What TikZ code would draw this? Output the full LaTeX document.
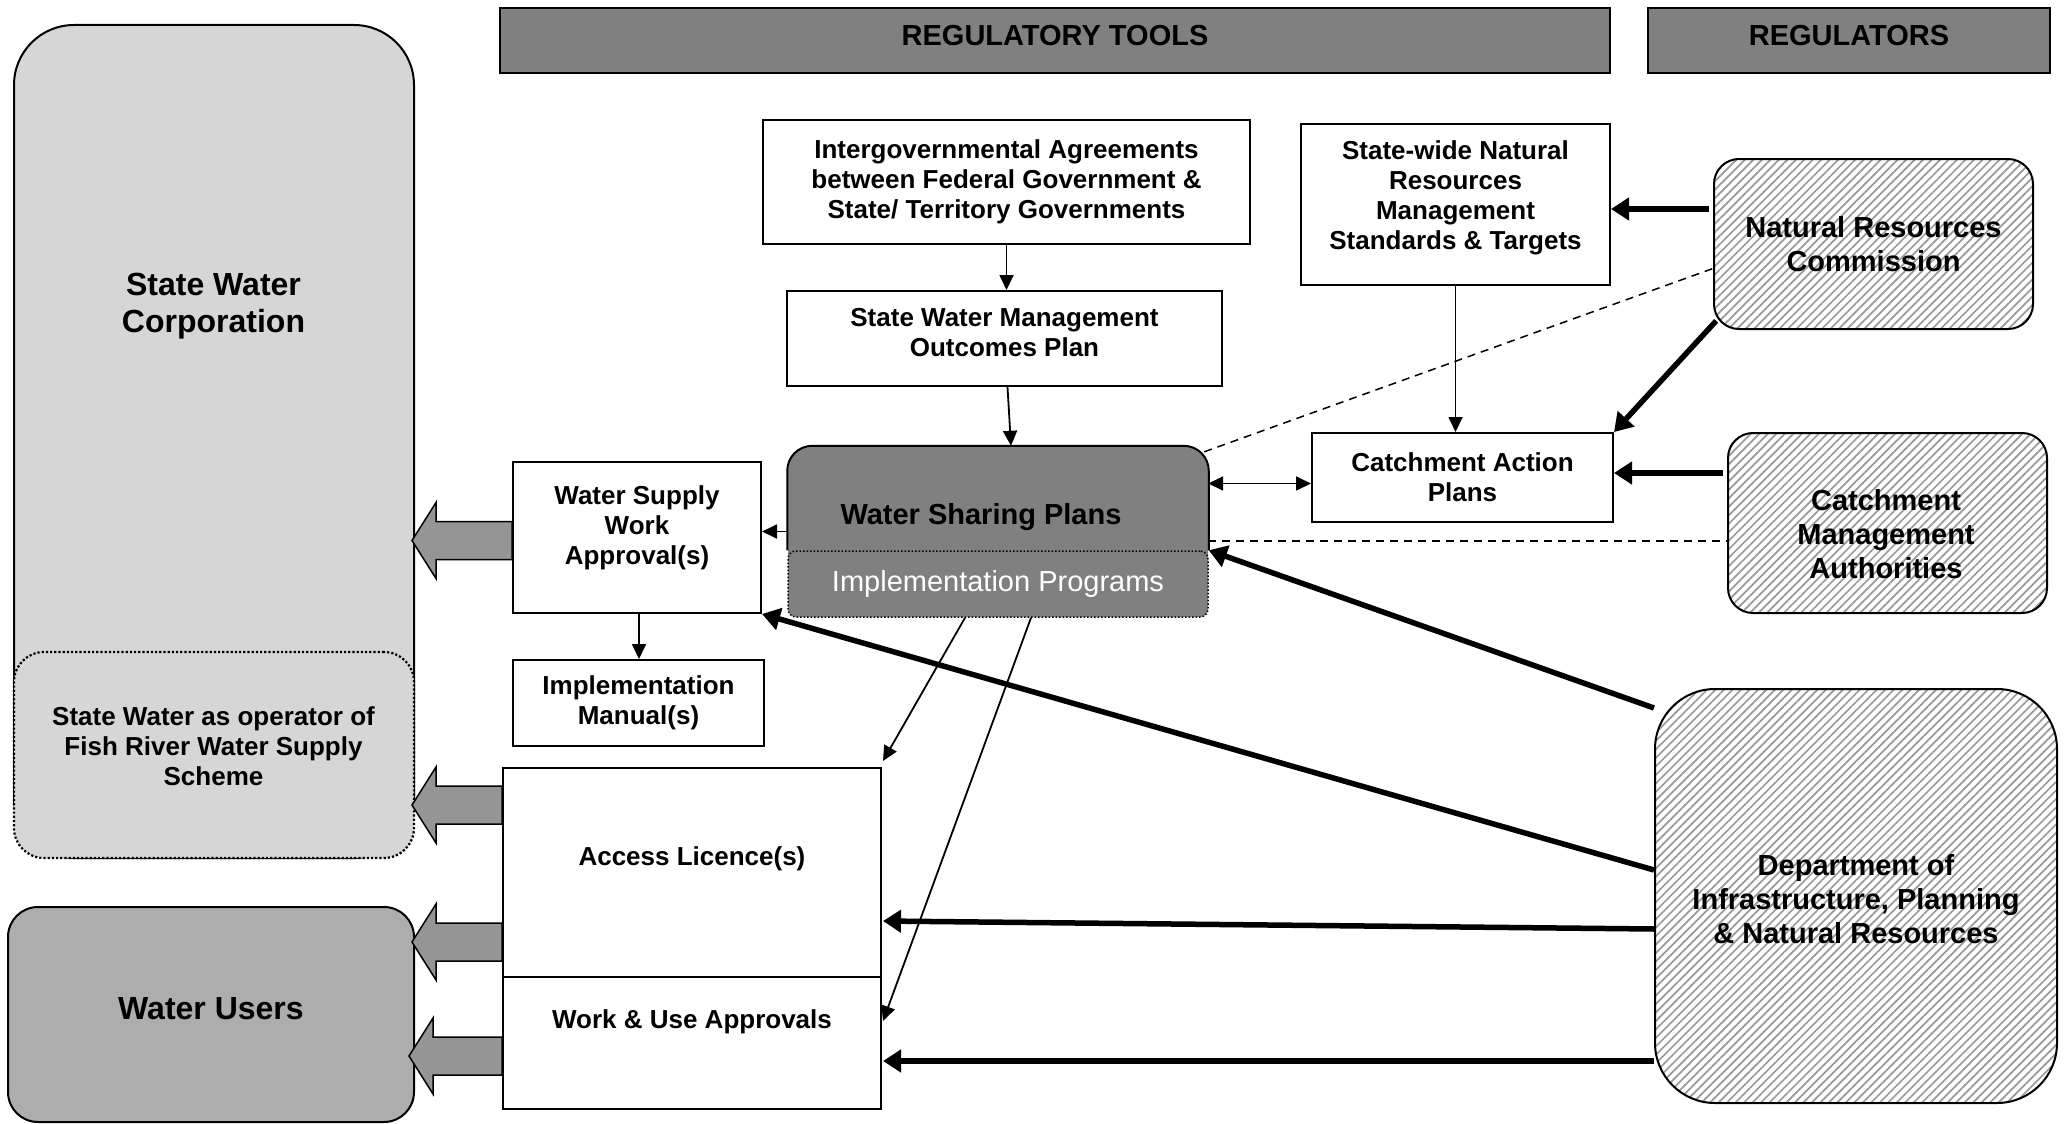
\documentclass[tikz,border=0pt]{standalone}
\usepackage{fontspec}
\setmainfont{Liberation Sans}
\usetikzlibrary{arrows.meta,calc,patterns.meta}
\definecolor{hdrgray}{HTML}{808080}
\definecolor{swcgray}{HTML}{D6D6D6}
\definecolor{wugray}{HTML}{ADADAD}
\definecolor{blockgray}{HTML}{959595}
\definecolor{hatchgray}{HTML}{999999}
\newcommand\fbody{\bfseries\fontsize{26pt}{30pt}\selectfont}
\newcommand\freg{\bfseries\fontsize{29pt}{34pt}\selectfont}
\newcommand\fbig{\bfseries\fontsize{32pt}{37pt}\selectfont}
\newcommand\fimpl{\fontsize{29pt}{34pt}\selectfont}
\newcommand\blockarr[2]{%
  \draw[barrow] (#1) ++(0,-19) -- ++({-(#2-24)},0) -- ++(0,-19) -- ++(-24,38)
    -- ++(24,38) -- ++(0,-19) -- ++({#2-24},0) -- cycle;}
\tikzset{
  box/.style={draw=black, line width=2pt, fill=white, inner sep=0pt, align=center, font=\fbody},
  hdr/.style={draw=black, line width=1.5pt, fill=hdrgray, inner sep=0pt, font=\freg},
  swcbox/.style={draw=black, line width=2pt, fill=swcgray, rounded corners=60pt, inner sep=0pt},
  fishbox/.style={draw=black, line width=2.2pt, dotted, fill=swcgray, rounded corners=30pt, inner sep=0pt},
  wubox/.style={draw=black, line width=2pt, fill=wugray, rounded corners=30pt, inner sep=0pt, font=\fbig},
  regbox/.style={draw=black, line width=2pt, rounded corners=25pt, inner sep=0pt, align=center, font=\freg,
    preaction={fill=white}, pattern={Lines[angle=45,distance=6pt,line width=1.7pt]}, pattern color=hatchgray},
  wspfill/.style={fill=hdrgray, rounded corners=25pt, inner sep=0pt},
  implbox/.style={draw=black, line width=1.5pt, dotted, fill=hdrgray, rounded corners=8pt, inner sep=0pt,
    text=white, font=\fimpl},
  thinarr/.style={line width=1.8pt, -{Triangle[length=15pt,width=14pt]}},
  thinboth/.style={line width=1.8pt, {Triangle[length=15pt,width=14pt]}-{Triangle[length=15pt,width=14pt]}},
  thickarr/.style={line width=5.5pt, -{Triangle[length=18pt,width=22pt]}},
  dashln/.style={line width=1.5pt, dash pattern=on 8pt off 6pt},
  barrow/.style={draw=black, line width=1.5pt, fill=blockgray, line join=miter},
}
\begin{document}
\begin{tikzpicture}[x=1pt,y=-1pt]
\useasboundingbox (0,0) rectangle (2067,1124);

% left-hand entities
\node[swcbox, minimum width=400pt, minimum height=833pt] (swc) at (214,441.5) {};
\node[font=\fbig, align=center] (swctxt) at (213.5,306) {State Water\\Corporation};
\node[fishbox, minimum width=400pt, minimum height=206pt] (fish) at (214,755) {};
\node[font=\fbody, align=center] (fishtxt) at (213.5,746) {State Water as operator of\\Fish River Water Supply\\Scheme};
\node[wubox, minimum width=406pt, minimum height=215pt] (wu) at (211,1014.5) {};
\node[font=\fbig] (wutxt) at (211,1009) {Water Users};

% headers
\node[hdr, minimum width=1110pt, minimum height=65pt] (hdrT) at (1055,40.5) {};
\node[font=\freg] (hdrTtxt) at (1055,36) {REGULATORY TOOLS};
\node[hdr, minimum width=402pt, minimum height=65pt] (hdrR) at (1849,40.5) {};
\node[font=\freg] (hdrRtxt) at (1849,36) {REGULATORS};

% regulatory tools
\node[box, minimum width=487pt, minimum height=124pt] (iga) at (1006.5,182) {Intergovernmental Agreements\\between Federal Government \&\\State/ Territory Governments};
\node[box, minimum width=435pt, minimum height=95pt] (swmop) at (1004.5,338.5) {};
\node[font=\fbody, align=center] (swmoptxt) at (1004.5,333) {State Water Management\\Outcomes Plan};
\node[box, minimum width=309pt, minimum height=161pt] (nrms) at (1455.5,204.5) {};
\node[font=\fbody, align=center] (nrmstxt) at (1455.5,198) {State-wide Natural\\Resources\\Management\\Standards \& Targets};
\node[box, minimum width=301pt, minimum height=89pt] (cap) at (1462.5,477.5) {Catchment Action\\Plans};

\node[wspfill, minimum width=420pt, minimum height=171pt] (wsp) at (998,531.5) {};
\node[implbox, minimum width=420pt, minimum height=66pt] (impl) at (998,584) {Implementation Programs};
\draw[line width=2pt, rounded corners=25pt] (impl.north west) |- (wsp.north) -| (impl.north east);
\node[font=\freg] (wsptxt) at (981,517) {Water Sharing Plans};

\node[box, minimum width=248pt, minimum height=151pt] (wswa) at (637,537.5) {};
\node[font=\fbody, align=center] (wswatxt) at (637,528) {Water Supply\\Work\\Approval(s)};
\node[box, minimum width=251pt, minimum height=86pt] (man) at (638.5,703) {Implementation\\Manual(s)};
\node[box, minimum width=378pt, minimum height=209pt] (al) at (692,872.5) {};
\node[font=\fbody] (altxt) at (692,859) {Access Licence(s)};
\node[box, minimum width=378pt, minimum height=132pt] (wu2) at (692,1043) {};
\node[font=\fbody] (wu2txt) at (692,1022) {Work \& Use Approvals};

% regulators
\node[regbox, minimum width=319pt, minimum height=170pt] (nrc) at (1873.5,244) {Natural Resources\\Commission};
\node[regbox, minimum width=319pt, minimum height=180pt] (cma) at (1887.5,523) {};
\node[font=\freg, align=center] (cmatxt) at (1886,534) {Catchment\\Management\\Authorities};
\node[regbox, rounded corners=60pt, minimum width=402pt, minimum height=414pt] (dip) at (1856,896) {};
\node[font=\freg, align=center] (diptxt) at (1856,899) {Department of\\Infrastructure, Planning\\\& Natural Resources};

% block arrows
\blockarr{$(wswa.west)+(0,3)$}{100}
\blockarr{$(al.north west)+(0,38)$}{90}
\blockarr{$(al.north west)+(0,175)$}{90}
\blockarr{$(wu2.north west)+(0,80)$}{93}

% thin arrows
\draw[thinarr] (iga.south) -- (iga.south |- swmop.north);
\draw[thinarr] ($(swmop.south)+(3,0)$) -- ($(wsp.north)+(13,0)$);
\draw[thinarr] (nrms.south) -- (nrms.south |- cap.north);
\coordinate (capw) at ($(cap.west)+(0,6)$);
\draw[thinboth] (wsp.east |- capw) -- (capw);
\draw[thinarr] (wsp.west) -- (wsp.west -| wswa.east);
\draw[thinarr] ($(wswa.south)+(2,0)$) -- ($(man.north)+(0.5,0)$);
\draw[thinarr] ($(impl.south)+(-33,0)$) -- ($(al.north east)+(1,-6)$);
\draw[thinarr] ($(impl.south)+(33,0)$) -- ($(wu2.north east)+(1,45)$);

% thick arrows
\coordinate (nrcw) at ($(nrc.west)+(-4,-35)$);
\draw[thickarr] (nrcw) -- (nrcw -| nrms.east);
\draw[thickarr] ($(nrc.south west)+(3,-9)$) -- (cap.north east);
\coordinate (cmaw) at ($(cma.west)+(-4,-50)$);
\draw[thickarr] (cmaw) -- (cmaw -| cap.east);
\draw[thickarr] ($(dip.north west)+(0,20)$) -- (impl.north east);
\draw[thickarr] ($(dip.west)+(0,-26)$) -- (wswa.south east);
\draw[thickarr] ($(dip.west)+(0,33)$) -- ($(al.east)+(1,48.5)$);
\coordinate (wue) at ($(wu2.east)+(1,18)$);
\draw[thickarr] (dip.west |- wue) -- (wue);

% dashed links
\draw[dashln] ($(wsp.north east)+(-4,6)$) -- ($(nrc.west)+(4,23)$);
\coordinate (wspd) at ($(wsp.east)+(0,9.5)$);
\draw[dashln] (wspd) -- (wspd -| cma.west);
\end{tikzpicture}
\end{document}
